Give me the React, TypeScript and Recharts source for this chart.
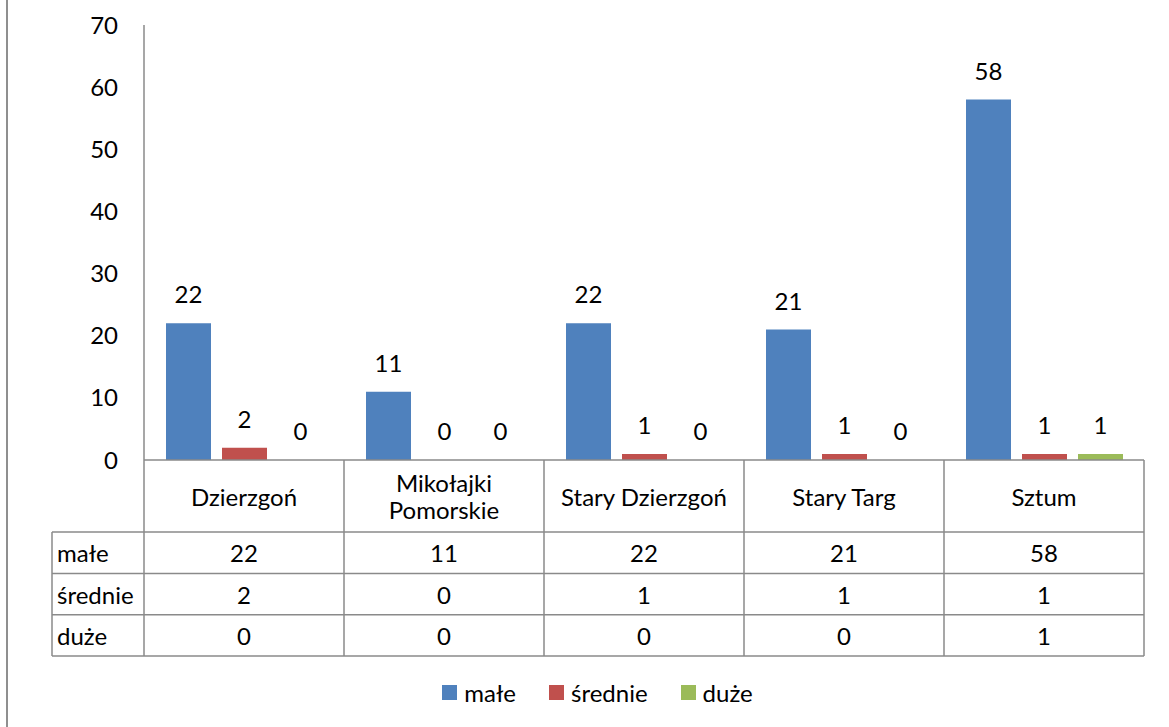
import { BarChart, Bar, XAxis, YAxis, LabelList, Legend, Rectangle } from 'recharts'

const categories = ['Dzierzgoń', 'Mikołajki Pomorskie', 'Stary Dzierzgoń', 'Stary Targ', 'Sztum']
const male = [22, 11, 22, 21, 58]
const srednie = [2, 0, 1, 1, 1]
const duze = [0, 0, 0, 0, 1]
const yTicks = [0, 10, 20, 30, 40, 50, 60, 70]

const seriesNames = ['małe', 'średnie', 'duże']
const seriesValues = [male, srednie, duze]
const colors = ['#4F81BD', '#C0504D', '#9BBB59']

const data = categories.map((name, i) => ({ name, male: male[i], srednie: srednie[i], duze: duze[i] }))
const keys = ['male', 'srednie', 'duze']

const W = 1169
const H = 727
const FONT = 'Lato, "Liberation Sans", sans-serif'
const FS = 24
const LINE = '#8a8a8a'
const HEADER_H = 72
const ROW_H = 41.3
const LABEL_COL = 92
const margin = { top: 25, right: 25, left: 44, bottom: 71 }
const BAND = (W - margin.left - 100 - margin.right) / categories.length

// wrap a category name into lines that fit the column, like the table cell does
let ctx: CanvasRenderingContext2D | null = null
function wrap(name: string, maxW: number): string[] {
  if (!ctx) ctx = document.createElement('canvas').getContext('2d')
  const measure = (s: string) => {
    if (!ctx) return s.length * FS * 0.5
    ctx.font = `${FS}px Lato`
    return ctx.measureText(s).width
  }
  const words = name.split(' ')
  const lines: string[] = []
  let cur = ''
  for (const w of words) {
    const next = cur ? cur + ' ' + w : w
    if (cur && measure(next) > maxW) {
      lines.push(cur)
      cur = w
    } else cur = next
  }
  if (cur) lines.push(cur)
  return lines
}

function TableTick(props: any) {
  const { x, y, payload } = props
  const index = payload.index ?? props.index
  const half = payload.offset || BAND / 2
  const left = x - half
  const right = x + half
  const bottom = y + HEADER_H + ROW_H * 3
  const last = index === categories.length - 1
  const textProps = { fontFamily: FONT, fontSize: FS, fill: '#000' }
  const lines = wrap(categories[index], 180)
  const lh = 27
  return (
    <g>
      <line x1={left} y1={y} x2={left} y2={bottom} stroke={LINE} strokeWidth={1.5} />
      {last && <line x1={right} y1={y} x2={right} y2={bottom} stroke={LINE} strokeWidth={1.5} />}
      {[0, 1, 2, 3].map((r) => (
        <line
          key={r}
          x1={index === 0 ? left - LABEL_COL : left}
          y1={y + HEADER_H + ROW_H * r}
          x2={right}
          y2={y + HEADER_H + ROW_H * r}
          stroke={LINE}
          strokeWidth={1.5}
        />
      ))}
      {index === 0 && (
        <line x1={left - LABEL_COL} y1={y + HEADER_H} x2={left - LABEL_COL} y2={bottom} stroke={LINE} strokeWidth={1.5} />
      )}
      {lines.map((ln, li) => (
        <text
          key={li}
          x={x}
          y={y + HEADER_H / 2 + (li - (lines.length - 1) / 2) * lh}
          textAnchor="middle"
          dominantBaseline="central"
          {...textProps}
        >
          {ln}
        </text>
      ))}
      {seriesValues.map((vals, r) => (
        <text
          key={r}
          x={x}
          y={y + HEADER_H + ROW_H * r + ROW_H / 2}
          textAnchor="middle"
          dominantBaseline="central"
          {...textProps}
        >
          {vals[index]}
        </text>
      ))}
      {index === 0 &&
        seriesNames.map((n, r) => (
          <text
            key={n}
            x={left - LABEL_COL + 5}
            y={y + HEADER_H + ROW_H * r + ROW_H / 2}
            dominantBaseline="central"
            {...textProps}
          >
            {n}
          </text>
        ))}
    </g>
  )
}

function LegendContent() {
  return (
    <div style={{ display: 'flex', justifyContent: 'center', gap: 33, fontFamily: FONT, fontSize: FS, paddingLeft: 26 }}>
      {seriesNames.map((n, i) => (
        <div key={n} style={{ display: 'flex', alignItems: 'center', gap: 7 }}>
          <span style={{ width: 15, height: 15, background: colors[i], display: 'inline-block' }} />
          <span>{n}</span>
        </div>
      ))}
    </div>
  )
}

const BarShape = (p: any) => (p.value ? <Rectangle {...p} /> : <g />)

export default function App() {
  return (
    <div style={{ position: 'absolute', left: 0, top: 0, width: W, height: H, background: '#fff' }}>
      <div style={{ position: 'absolute', left: 6, top: 0, width: 2, height: H, background: '#8f8f8f' }} />
      <BarChart width={W} height={H} data={data} margin={margin} barCategoryGap={22} barGap={11}>
        <YAxis
          width={100}
          domain={[0, 70]}
          ticks={yTicks}
          interval={0}
          tickLine={false}
          tickSize={0}
          tickMargin={26}
          axisLine={{ stroke: LINE, strokeWidth: 1.5 }}
          tick={{ fill: '#000', fontSize: FS, fontFamily: FONT }}
        />
        <XAxis
          dataKey="name"
          height={HEADER_H + ROW_H * 3}
          interval={0}
          tickLine={false}
          tickSize={0}
          tickMargin={0}
          axisLine={{ stroke: LINE, strokeWidth: 1.5 }}
          tick={(p: any) => <TableTick {...p} />}
        />
        <Legend
          verticalAlign="middle"
          align="center"
          content={() => <LegendContent />}
          wrapperStyle={{ top: 678, left: 0, width: W }}
        />
        {keys.map((k, i) => (
          <Bar
            key={k}
            dataKey={k}
            name={seriesNames[i]}
            fill={colors[i]}
            minPointSize={0.5}
            shape={BarShape}
            isAnimationActive={false}
          >
            <LabelList
              dataKey={k}
              position="top"
              offset={20}
              style={{ fill: '#000', fontSize: FS, fontFamily: FONT }}
            />
          </Bar>
        ))}
      </BarChart>
    </div>
  )
}
